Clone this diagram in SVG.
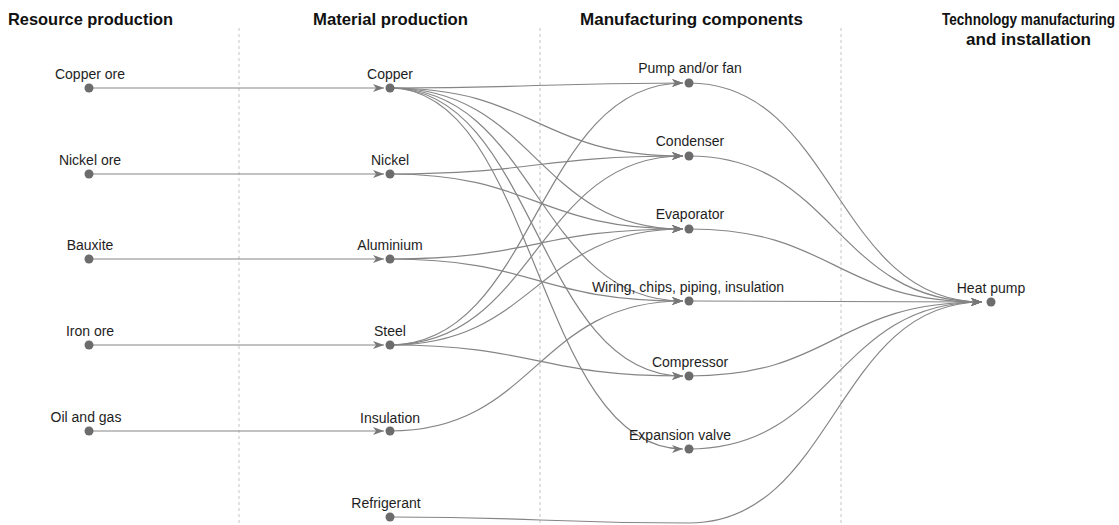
<svg xmlns="http://www.w3.org/2000/svg" width="1119" height="525" viewBox="0 0 1119 525">
<defs>
<style>
.hdr{font-family:"Liberation Sans",Arial,sans-serif;font-weight:700;font-size:16.5px;fill:#111}
.lbl{font-family:"Liberation Sans",Arial,sans-serif;font-size:14px;fill:#1e1e1e;text-anchor:middle}
.dot{fill:#6c6c6c}
.div{stroke:#c4c4c4;stroke-width:1;stroke-dasharray:3 3}
.e{fill:none;stroke:#858585;stroke-width:1.2;marker-end:url(#arr)}
</style>
<marker id="arr" markerUnits="userSpaceOnUse" markerWidth="12" markerHeight="10" refX="11" refY="5" orient="auto">
<path d="M0,1 L11,5 L0,9 L3,5 z" fill="#777"/>
</marker>
</defs>
<rect width="1119" height="525" fill="#fff"/>
<g id="dividers">
<line class="div" x1="239" y1="28" x2="239" y2="525"/>
<line class="div" x1="540" y1="28" x2="540" y2="525"/>
<line class="div" x1="841" y1="28" x2="841" y2="525"/>
</g>
<g id="headers">
<text class="hdr" x="8" y="25" textLength="165" lengthAdjust="spacingAndGlyphs">Resource production</text>
<text class="hdr" x="313" y="25" textLength="155" lengthAdjust="spacingAndGlyphs">Material production</text>
<text class="hdr" x="580" y="25" textLength="223" lengthAdjust="spacingAndGlyphs">Manufacturing components</text>
<text class="hdr" x="942" y="25" style="font-size:16.2px" textLength="173" lengthAdjust="spacingAndGlyphs">Technology manufacturing</text>
<text class="hdr" x="966" y="45" textLength="125" lengthAdjust="spacingAndGlyphs">and installation</text>
</g>
<g id="connectors">
<path class="e" d="M89,88 L384,88"/>
<path class="e" d="M89,174 L384,174"/>
<path class="e" d="M89,259 L384,259"/>
<path class="e" d="M89,345 L384,345"/>
<path class="e" d="M89,431 L384,431"/>
<path class="e" d="M390,88 C536,88 536,83 683,83"/>
<path class="e" d="M390,88 C536,88 536,156 683,156"/>
<path class="e" d="M390,88 C536,88 536,229 683,229"/>
<path class="e" d="M390,88 C536,88 536,301 683,301"/>
<path class="e" d="M390,88 C536,88 536,376 683,376"/>
<path class="e" d="M390,88 C536,88 536,449 683,449"/>
<path class="e" d="M390,174 C536,174 536,156 683,156"/>
<path class="e" d="M390,174 C536,174 536,229 683,229"/>
<path class="e" d="M390,259 C536,259 536,229 683,229"/>
<path class="e" d="M390,259 C536,259 536,301 683,301"/>
<path class="e" d="M390,345 C536,345 536,83 683,83"/>
<path class="e" d="M390,345 C536,345 536,156 683,156"/>
<path class="e" d="M390,345 C536,345 536,229 683,229"/>
<path class="e" d="M390,345 C536,345 536,376 683,376"/>
<path class="e" d="M390,431 C536,431 536,301 683,301"/>
<path class="e" d="M689,83 C835,83 835,302 982,302"/>
<path class="e" d="M689,156 C835,156 835,302 982,302"/>
<path class="e" d="M689,229 C835,229 835,302 982,302"/>
<path class="e" d="M689,301 L982,302"/>
<path class="e" d="M689,376 C835,376 835,302 982,302"/>
<path class="e" d="M689,449 C835,449 835,302 982,302"/>
<path class="e" d="M390,517 C540,517 540,523 689,523 C835,523 835,302 982,302"/>
</g>
<g id="n-copper-ore"><circle class="dot" cx="89" cy="88" r="4.5"/><text class="lbl" x="90" y="79">Copper ore</text></g>
<g id="n-nickel-ore"><circle class="dot" cx="89" cy="174" r="4.5"/><text class="lbl" x="90" y="165">Nickel ore</text></g>
<g id="n-bauxite"><circle class="dot" cx="89" cy="259" r="4.5"/><text class="lbl" x="90" y="250">Bauxite</text></g>
<g id="n-iron-ore"><circle class="dot" cx="89" cy="345" r="4.5"/><text class="lbl" x="90" y="336">Iron ore</text></g>
<g id="n-oil-gas"><circle class="dot" cx="89" cy="431" r="4.5"/><text class="lbl" x="86" y="422">Oil and gas</text></g>
<g id="n-copper"><circle class="dot" cx="390" cy="88" r="4.5"/><text class="lbl" x="390" y="79">Copper</text></g>
<g id="n-nickel"><circle class="dot" cx="390" cy="174" r="4.5"/><text class="lbl" x="390" y="165">Nickel</text></g>
<g id="n-aluminium"><circle class="dot" cx="390" cy="259" r="4.5"/><text class="lbl" x="390" y="250">Aluminium</text></g>
<g id="n-steel"><circle class="dot" cx="390" cy="345" r="4.5"/><text class="lbl" x="390" y="336">Steel</text></g>
<g id="n-insulation"><circle class="dot" cx="390" cy="431" r="4.5"/><text class="lbl" x="390" y="423">Insulation</text></g>
<g id="n-refrigerant"><circle class="dot" cx="390" cy="517" r="4.5"/><text class="lbl" x="386" y="508">Refrigerant</text></g>
<g id="n-pump"><circle class="dot" cx="689" cy="83" r="4.5"/><text class="lbl" x="690" y="73">Pump and/or fan</text></g>
<g id="n-condenser"><circle class="dot" cx="689" cy="156" r="4.5"/><text class="lbl" x="690" y="146">Condenser</text></g>
<g id="n-evaporator"><circle class="dot" cx="689" cy="229" r="4.5"/><text class="lbl" x="690" y="219">Evaporator</text></g>
<g id="n-wiring"><circle class="dot" cx="689" cy="301" r="4.5"/><text class="lbl" x="688" y="292">Wiring, chips, piping, insulation</text></g>
<g id="n-compressor"><circle class="dot" cx="689" cy="376" r="4.5"/><text class="lbl" x="690" y="367">Compressor</text></g>
<g id="n-expansion"><circle class="dot" cx="689" cy="449" r="4.5"/><text class="lbl" x="680" y="440">Expansion valve</text></g>
<g id="n-heatpump"><circle class="dot" cx="991" cy="302" r="4.5"/><text class="lbl" x="991" y="293">Heat pump</text></g>
</svg>
